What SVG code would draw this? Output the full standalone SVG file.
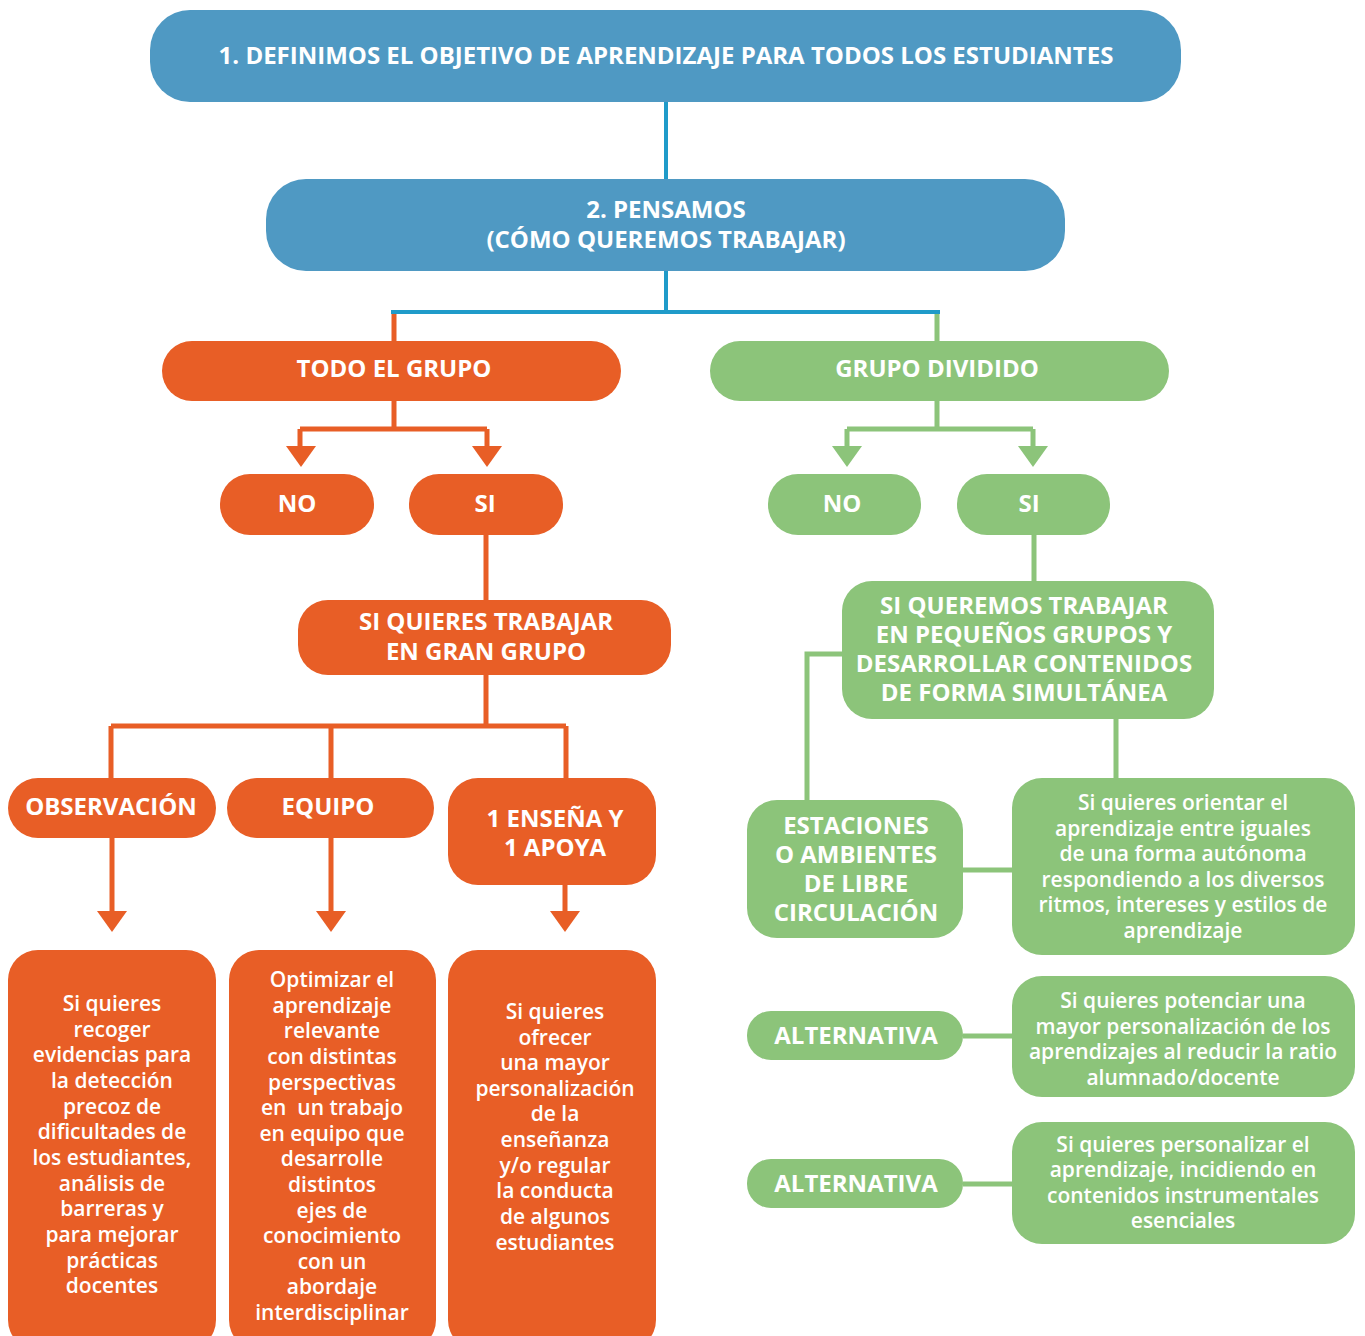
<svg xmlns="http://www.w3.org/2000/svg" width="1365" height="1336" viewBox="0 0 1365 1336">
<style>
.blue{fill:#4F99C3}
.or{fill:#E85E26}
.gr{fill:#8CC47A}
text{font-family:"Open Sans","Noto Sans","Liberation Sans",sans-serif;fill:#fff;text-anchor:middle}
.h{font-weight:700;font-size:24px}
.b{font-weight:600;font-size:21px}
.cb{stroke:#1F9BC9;stroke-width:4;fill:none}
.co{stroke:#E85E26;stroke-width:5;fill:none}
.cg{stroke:#8CC47A;stroke-width:5;fill:none}
</style>
<rect width="1365" height="1336" fill="#fff"/>
<g id="connectors">
<path class="cb" d="M666 102V312M391 312H940"/>
<path class="co" d="M394 314V341M394 401V429M300 429H487M300 429V448M487 429V448M486 535V600M486 675V726M111 726H566M111 726V778M331 726V778M566 726V778M112 838V914M331 838V914M565 885V914"/>
<g fill="#E85E26">
<polygon points="286,446 316,446 301,467"/>
<polygon points="472,446 502,446 487,467"/>
<polygon points="97,911 127,911 112,932"/>
<polygon points="316,911 346,911 331,932"/>
<polygon points="550,911 580,911 565,932"/>
</g>
<path class="cg" d="M937 314V341M937 401V429M847 429H1033M847 429V448M1033 429V448M1034 535V581M842 654H807V800M1116 719V778M963 870H1012M963 1036H1012M963 1184H1012"/>
<g fill="#8CC47A">
<polygon points="832,446 862,446 847,467"/>
<polygon points="1018,446 1048,446 1033,467"/>
</g>
</g>
<g id="n1"><rect class="blue" x="150" y="10" width="1031" height="92" rx="40"/><text class="h" x="666" y="64">1. DEFINIMOS EL OBJETIVO DE APRENDIZAJE PARA TODOS LOS ESTUDIANTES</text></g>
<g id="n2"><rect class="blue" x="266" y="179" width="799" height="92" rx="40"/><text class="h" x="666" y="218">2. PENSAMOS</text><text class="h" x="666" y="248">(CÓMO QUEREMOS TRABAJAR)</text></g>
<g id="todo"><rect class="or" x="162" y="341" width="459" height="60" rx="30"/><text class="h" x="394" y="377">TODO EL GRUPO</text></g>
<g id="dividido"><rect class="gr" x="710" y="341" width="459" height="60" rx="30"/><text class="h" x="937" y="377">GRUPO DIVIDIDO</text></g>
<g id="no1"><rect class="or" x="220" y="474" width="154" height="61" rx="30"/><text class="h" x="297" y="512">NO</text></g>
<g id="si1"><rect class="or" x="409" y="474" width="154" height="61" rx="30"/><text class="h" x="485" y="512">SI</text></g>
<g id="no2"><rect class="gr" x="768" y="474" width="153" height="61" rx="30"/><text class="h" x="842" y="512">NO</text></g>
<g id="si2"><rect class="gr" x="957" y="474" width="153" height="61" rx="30"/><text class="h" x="1029" y="512">SI</text></g>
<g id="gran"><rect class="or" x="298" y="600" width="373" height="75" rx="30"/><text class="h" x="486" y="630">SI QUIERES TRABAJAR</text><text class="h" x="486" y="660">EN GRAN GRUPO</text></g>
<g id="obs"><rect class="or" x="8" y="778" width="208" height="60" rx="30"/><text class="h" x="111" y="815">OBSERVACIÓN</text></g>
<g id="equipo"><rect class="or" x="227" y="778" width="207" height="60" rx="30"/><text class="h" x="328" y="815">EQUIPO</text></g>
<g id="ensena"><rect class="or" x="448" y="778" width="208" height="107" rx="30"/><text class="h" x="555" y="827">1 ENSEÑA Y</text><text class="h" x="555" y="856">1 APOYA</text></g>
<g id="t1"><rect class="or" x="8" y="950" width="208" height="400" rx="30"/>
<text class="b"><tspan x="112" y="1011">Si quieres</tspan><tspan x="112" y="1037">recoger</tspan><tspan x="112" y="1062">evidencias para</tspan><tspan x="112" y="1088">la detección</tspan><tspan x="112" y="1114">precoz de</tspan><tspan x="112" y="1139">dificultades de</tspan><tspan x="112" y="1165">los estudiantes,</tspan><tspan x="112" y="1191">análisis de</tspan><tspan x="112" y="1216">barreras y</tspan><tspan x="112" y="1242">para mejorar</tspan><tspan x="112" y="1268">prácticas</tspan><tspan x="112" y="1293">docentes</tspan></text></g>
<g id="t2"><rect class="or" x="229" y="950" width="207" height="400" rx="30"/>
<text class="b"><tspan x="332" y="987">Optimizar el</tspan><tspan x="332" y="1013">aprendizaje</tspan><tspan x="332" y="1038">relevante</tspan><tspan x="332" y="1064">con distintas</tspan><tspan x="332" y="1090">perspectivas</tspan><tspan x="332" y="1115" xml:space="preserve">en  un trabajo</tspan><tspan x="332" y="1141">en equipo que</tspan><tspan x="332" y="1166">desarrolle</tspan><tspan x="332" y="1192">distintos</tspan><tspan x="332" y="1218">ejes de</tspan><tspan x="332" y="1243">conocimiento</tspan><tspan x="332" y="1269">con un</tspan><tspan x="332" y="1294">abordaje</tspan><tspan x="332" y="1320">interdisciplinar</tspan></text></g>
<g id="t3"><rect class="or" x="448" y="950" width="208" height="400" rx="30"/>
<text class="b"><tspan x="555" y="1019">Si quieres</tspan><tspan x="555" y="1045">ofrecer</tspan><tspan x="555" y="1070">una mayor</tspan><tspan x="555" y="1096">personalización</tspan><tspan x="555" y="1121">de la</tspan><tspan x="555" y="1147">enseñanza</tspan><tspan x="555" y="1173">y/o regular</tspan><tspan x="555" y="1198">la conducta</tspan><tspan x="555" y="1224">de algunos</tspan><tspan x="555" y="1250">estudiantes</tspan></text></g>
<g id="peq"><rect class="gr" x="842" y="581" width="372" height="138" rx="30"/><text class="h"><tspan x="1024" y="614">SI QUEREMOS TRABAJAR</tspan><tspan x="1024" y="643">EN PEQUEÑOS GRUPOS Y</tspan><tspan x="1024" y="672">DESARROLLAR CONTENIDOS</tspan><tspan x="1024" y="701">DE FORMA SIMULTÁNEA</tspan></text></g>
<g id="est"><rect class="gr" x="747" y="800" width="216" height="138" rx="30"/><text class="h"><tspan x="856" y="834">ESTACIONES</tspan><tspan x="856" y="863">O AMBIENTES</tspan><tspan x="856" y="892">DE LIBRE</tspan><tspan x="856" y="921">CIRCULACIÓN</tspan></text></g>
<g id="d1"><rect class="gr" x="1012" y="778" width="343" height="177" rx="30"/><text class="b"><tspan x="1183" y="810">Si quieres orientar el</tspan><tspan x="1183" y="836">aprendizaje entre iguales</tspan><tspan x="1183" y="861">de una forma autónoma</tspan><tspan x="1183" y="887">respondiendo a los diversos</tspan><tspan x="1183" y="912">ritmos, intereses y estilos de</tspan><tspan x="1183" y="938">aprendizaje</tspan></text></g>
<g id="alt1"><rect class="gr" x="747" y="1011" width="216" height="49" rx="24"/><text class="h" x="856" y="1044">ALTERNATIVA</text></g>
<g id="d2"><rect class="gr" x="1012" y="976" width="343" height="121" rx="30"/><text class="b"><tspan x="1183" y="1008">Si quieres potenciar una</tspan><tspan x="1183" y="1034">mayor personalización de los</tspan><tspan x="1183" y="1059">aprendizajes al reducir la ratio</tspan><tspan x="1183" y="1085">alumnado/docente</tspan></text></g>
<g id="alt2"><rect class="gr" x="747" y="1159" width="216" height="49" rx="24"/><text class="h" x="856" y="1192">ALTERNATIVA</text></g>
<g id="d3"><rect class="gr" x="1012" y="1122" width="343" height="122" rx="30"/><text class="b"><tspan x="1183" y="1152">Si quieres personalizar el</tspan><tspan x="1183" y="1177">aprendizaje, incidiendo en</tspan><tspan x="1183" y="1203">contenidos instrumentales</tspan><tspan x="1183" y="1228">esenciales</tspan></text></g>
</svg>
